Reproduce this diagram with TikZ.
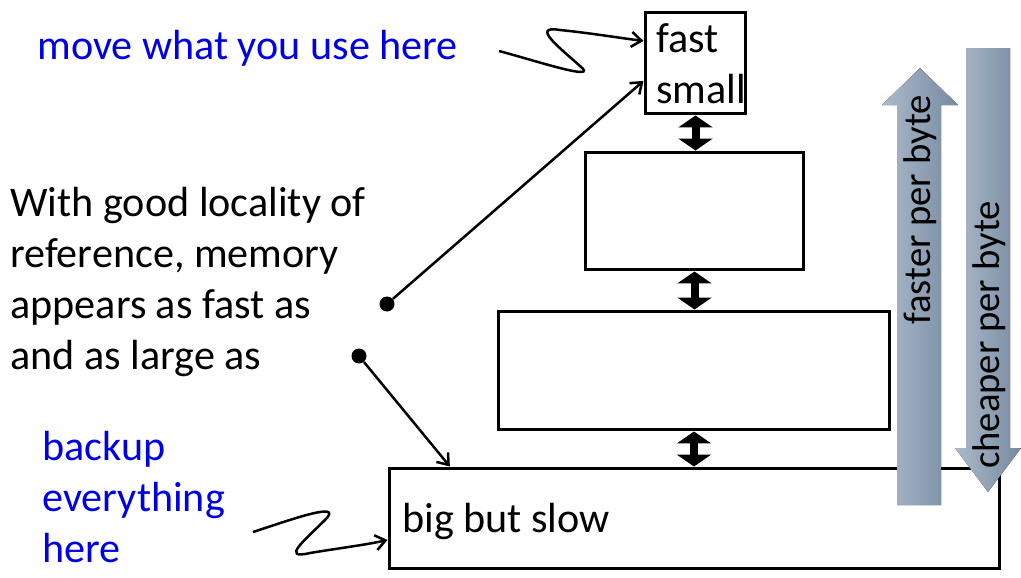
\documentclass[tikz,border=0pt]{standalone}
\usepackage{fontspec}
\setmainfont{Carlito}
\usetikzlibrary{arrows.meta}
\definecolor{noteblue}{RGB}{0,0,230}
\definecolor{bandlight}{RGB}{172,186,202}
\definecolor{banddark}{RGB}{118,138,160}

\begin{document}
\begin{tikzpicture}[x=0.02cm,y=-0.02cm,level/.style={shape=rectangle,draw=black,line width=0.06cm,inner sep=0pt},txt/.style={inner sep=0pt,font=\fontsize{24}{29}\selectfont,align=left},note/.style={txt,text=noteblue},side/.style={inner sep=0pt,font=\fontsize{22}{26}\selectfont,rotate=90},dot/.style={shape=circle,fill=black,inner sep=0pt,minimum size=0.3cm},link/.style={line width=0.05cm,-{Straight Barb[length=0.2cm,width=0.3cm]}},bus/.style={line width=0.16cm,{Triangle[length=0.24cm,width=0.68cm]}-{Triangle[length=0.24cm,width=0.68cm]}},band/.style={left color=bandlight,right color=banddark,draw=none}]
\def\bx{695};

\useasboundingbox (0,0) rectangle (1021,578);

\node[level,minimum width=2.02cm,minimum height=2.04cm] (L1) at (\bx+0.5,63) {};
\node[level,minimum width=4.38cm,minimum height=2.36cm] (L2) at (\bx-0.5,211) {};
\node[level,minimum width=7.84cm,minimum height=2.38cm] (L3) at (\bx-1,370.5) {};
\node[level,minimum width=12.22cm,minimum height=2.02cm] (L4) at (\bx-0.5,518.5) {};

\draw[bus] (L1.south) -- (L1.south |- L2.north);
\draw[bus] (L2.south) -- (L2.south |- L3.north);
\draw[bus] (L3.south) -- (L3.south |- L4.north);

\node[txt,anchor=base west] (fast) at (656,103) {fast\\small};
\node[txt,anchor=base west] (slow) at (402,532) {big but slow};

\fill[band] (897,505) -- (897,105) -- (882,105) -- (920,68) -- (958,105) -- (941,105) -- (941,505) -- cycle;
\fill[band] (966,48) -- (966,448) -- (955,448) -- (988,492) -- (1021,448) -- (1010,448) -- (1010,48) -- cycle;
\node[side] (faster) at (920,210) {faster per byte};
\node[side] (cheaper) at (989,335) {cheaper per byte};

\node[note,anchor=base west] (use) at (37,59) {move what you use here};
\node[txt,anchor=base west] (claim) at (10,369) {With good locality of\\reference, memory\\appears as fast as\\and as large as};
\node[note,anchor=base west] (backup) at (42,562) {backup\\everything\\here};

\node[dot] (d1) at (387,304) {};
\node[dot] (d2) at (359,356) {};
\draw[link] (d1) -- (L1.199);
\draw[link] (d2) -- (L4.168);

\coordinate (s1) at (499,51);
\coordinate (s2) at (253,532);
\draw[link] (s1) .. controls (540,62) and (600,82) .. (580,66) .. controls (560,48) and (530,25) .. (560,30) .. controls (590,33) and (620,38) .. (L1.157);
\draw[link] (s2) .. controls (290,520) and (345,500) .. (325,520) .. controls (305,540) and (280,560) .. (310,553) .. controls (340,548) and (365,545) .. (L4.184);
\end{tikzpicture}
\end{document}
